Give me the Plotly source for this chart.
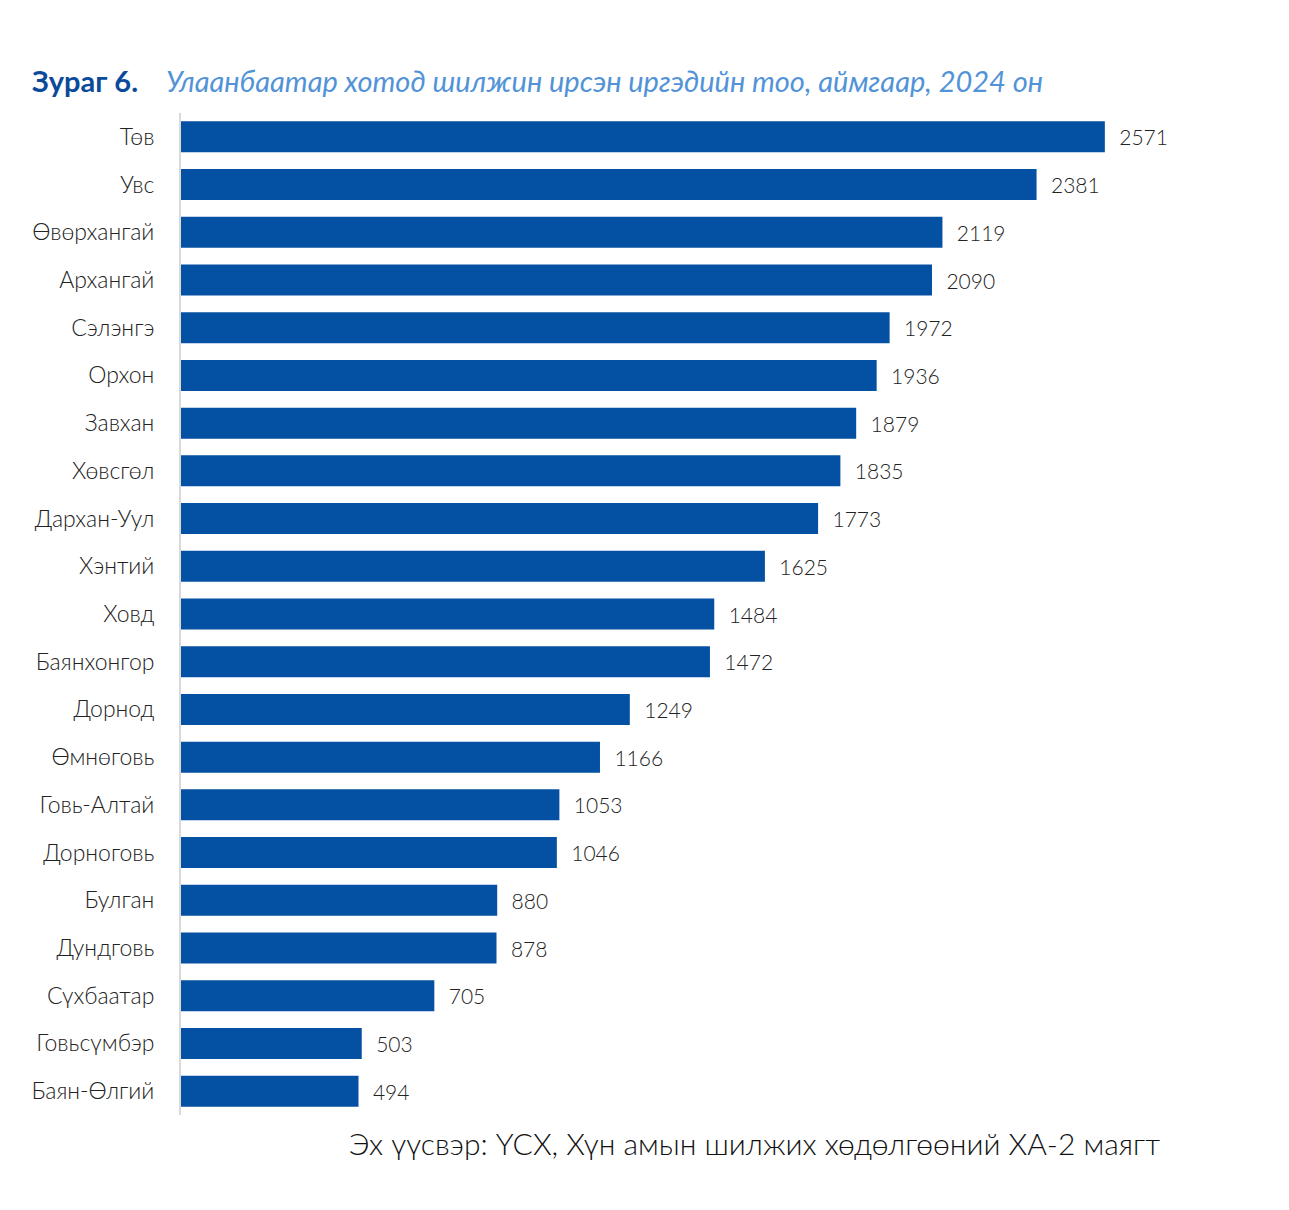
import plotly.graph_objects as go

# аймгууд, дээрээс доош
aimags = ["Төв", "Увс", "Өвөрхангай", "Архангай", "Сэлэнгэ", "Орхон", "Завхан",
          "Хөвсгөл", "Дархан-Уул", "Хэнтий", "Ховд", "Баянхонгор", "Дорнод",
          "Өмнөговь", "Говь-Алтай", "Дорноговь", "Булган", "Дундговь",
          "Сүхбаатар", "Говьсүмбэр", "Баян-Өлгий"]
migrants = [2571, 2381, 2119, 2090, 1972, 1936, 1879, 1835, 1773, 1625, 1484,
            1472, 1249, 1166, 1053, 1046, 880, 878, 705, 503, 494]

fnt = "Lato, 'Open Sans', sans-serif"
pw = 1078  # plot width px

fig = go.Figure()
fig.add_trace(go.Bar(
    x=migrants,
    y=aimags,
    orientation="h",
    marker=dict(color="#0450A2", line=dict(width=0)),
    text=["  " + str(v) for v in migrants],
    textposition="outside",
    cliponaxis=False,
    textfont=dict(family=fnt, size=21, color="#222222", weight=300),
))

fig.update_layout(
    width=1289, height=1210,
    margin=dict(l=173, r=38, t=105, b=103),
    plot_bgcolor="white", paper_bgcolor="white",
    showlegend=False,
    bargap=0.35,
    font=dict(family=fnt, size=21, color="#222222"),
    xaxis=dict(range=[0, 3000], showgrid=False, zeroline=False,
               showticklabels=False, showline=False),
    yaxis=dict(autorange="reversed", showgrid=False, zeroline=False,
               showline=True, linecolor="#D9D9D9", linewidth=2,
               ticklabelstandoff=20,
               tickfont=dict(family=fnt, size=23, color="#222222", weight=300)),
    annotations=[
        dict(text="<b>Зураг 6.</b>", xref="paper", yref="paper",
             x=(30 - 181) / pw, y=1, yshift=33, xanchor="left", yanchor="middle",
             showarrow=False, font=dict(family=fnt, size=29, color="#0B4A9B")),
        dict(text="<i>Улаанбаатар хотод шилжин ирсэн иргэдийн тоо, аймгаар, 2024 он</i>",
             xref="paper", yref="paper",
             x=(164 - 181) / pw, y=1, yshift=33, xanchor="left", yanchor="middle",
             showarrow=False, font=dict(family=fnt, size=29, color="#5293D8")),
        dict(text="Эх үүсвэр: ҮСХ, Хүн амын шилжих хөдөлгөөний ХА-2 маягт",
             xref="paper", yref="paper",
             x=(1162 - 181) / pw, y=0, yshift=-28, xanchor="right", yanchor="middle",
             showarrow=False, font=dict(family=fnt, size=30, color="#111111", weight=300)),
    ],
)

fig.write_html("out.html")
